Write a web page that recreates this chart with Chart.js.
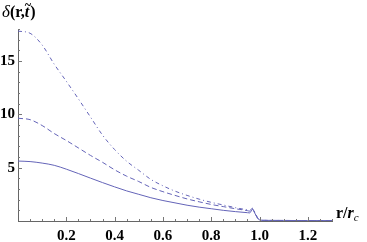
<!DOCTYPE html>
<html>
<head>
<meta charset="utf-8">
<script src="https://cdn.jsdelivr.net/npm/chart.js@4/dist/chart.umd.min.js"></script>
<style>
html,body{margin:0;padding:0;background:#fff;}
#wrap{width:367px;height:242px;position:relative;}
</style>
</head>
<body>
<div id="wrap"><canvas id="c" width="367" height="242"></canvas></div>
<script>
const rValues = [0,0.05,0.1,0.15,0.2,0.25,0.3,0.35,0.4,0.45,0.5,0.55,0.6,0.65,0.7,0.75,0.8,0.85,0.9,0.95,0.96,0.97,0.98,0.99,1.0,1.02,1.1,1.2,1.3];
const solidValues = [5.62,5.57,5.43,5.22,4.86,4.45,4.02,3.6,3.2,2.82,2.5,2.18,1.92,1.7,1.48,1.3,1.15,1.0,0.88,0.78,0.76,1.1,0.75,0.35,0.1,0.06,0.05,0.04,0.04];
const dashedValues = [9.63,9.5,8.95,8.2,7.55,6.85,6.15,5.5,4.8,4.2,3.7,3.15,2.75,2.4,2.07,1.8,1.55,1.35,1.15,0.97,0.92,1.15,0.8,0.35,0.1,0.06,0.05,0.04,0.04];
const dashDotValues = [17.8,17.6,16.5,14.7,13.1,11.45,9.75,8.05,6.7,5.6,4.75,3.9,3.3,2.8,2.4,2.05,1.75,1.5,1.25,1.03,0.98,1.2,0.85,0.35,0.1,0.06,0.05,0.04,0.04];
const xTickValues = [0.2,0.4,0.6,0.8,1.0,1.2];
const yTickValues = [5,10,15];
const xTickLabels = ["0.2","0.4","0.6","0.8","1.0","1.2"];
const yTickLabels = ["5","10","15"];

const lineColor = '#6464b8';
const pts = arr => rValues.map((r,i)=>({x:r,y:arr[i]}));

const serif = '"Liberation Serif","DejaVu Serif",serif';
const tickFont = {family:serif, size:15, weight:'bold'};

const axisPlugin = {
  id:'axisDecor',
  afterDraw(chart){
    const ctx = chart.ctx, xs = chart.scales.x, ys = chart.scales.y, ca = chart.chartArea;
    ctx.save();
    ctx.strokeStyle = '#777';
    ctx.lineWidth = 1;
    for (let v = 0.05; v <= 1.3001; v += 0.05) {
      const px = Math.round(xs.getPixelForValue(v)) + 0.5;
      const major = Math.abs(v/0.2 - Math.round(v/0.2)) < 1e-6;
      ctx.beginPath(); ctx.moveTo(px, ca.bottom); ctx.lineTo(px, ca.bottom - (major?4:2)); ctx.stroke();
    }
    for (let v = 1; v <= 18; v += 1) {
      const py = Math.round(ys.getPixelForValue(v)) + 0.5;
      const major = v % 5 === 0;
      ctx.beginPath(); ctx.moveTo(ca.left, py); ctx.lineTo(ca.left + (major?4:2), py); ctx.stroke();
    }
    ctx.fillStyle = '#000';
    ctx.textBaseline = 'alphabetic';
    ctx.textAlign = 'left';
    let x = 2, y = 17;
    ctx.font = 'italic 17px ' + serif; ctx.fillText('δ', x, y); x += ctx.measureText('δ').width;
    ctx.font = 'bold 16px ' + serif; ctx.fillText('(r,', x, y); x += ctx.measureText('(r,').width;
    ctx.font = 'bold italic 16px ' + serif; ctx.fillText('t', x, y);
    const tw = ctx.measureText('t').width;
    ctx.font = 'bold 12px ' + serif; ctx.fillText('~', x, y - 8); x += tw + 1;
    ctx.font = 'bold 16px ' + serif; ctx.fillText(')', x, y);
    x = 336; y = 218;
    ctx.font = 'bold 16px ' + serif; ctx.fillText('r/', x, y); x += ctx.measureText('r/').width;
    ctx.font = 'bold italic 16px ' + serif; ctx.fillText('r', x, y); x += ctx.measureText('r').width;
    ctx.font = 'italic 11px ' + serif; ctx.fillText('c', x, y + 3);
    ctx.restore();
  }
};

new Chart(document.getElementById('c'), {
  type:'line',
  data:{
    datasets:[
      {data:pts(solidValues), borderColor:lineColor, borderWidth:1, pointRadius:0, cubicInterpolationMode:'monotone', fill:false},
      {data:pts(dashedValues), borderColor:lineColor, borderWidth:1, borderDash:[5,3], pointRadius:0, cubicInterpolationMode:'monotone', fill:false},
      {data:pts(dashDotValues), borderColor:lineColor, borderWidth:1, borderDash:[4,3,1,3], pointRadius:0, cubicInterpolationMode:'monotone', fill:false}
    ]
  },
  options:{
    responsive:false,
    animation:false,
    events:[],
    layout:{padding:{top:29,right:35,left:0,bottom:0}},
    plugins:{legend:{display:false},tooltip:{enabled:false}},
    scales:{
      x:{
        type:'linear', min:0, max:1.3,
        grid:{display:true, drawOnChartArea:false, drawTicks:false},
        border:{display:true, color:'#666', width:1},
        afterBuildTicks(s){ s.ticks = xTickValues.map(v=>({value:v})); },
        afterFit(s){ s.height = 21; },
        ticks:{padding:6, color:'#000', font:tickFont, maxRotation:0, autoSkip:false,
          callback:(v)=>{ const i = xTickValues.findIndex(t=>Math.abs(t-v)<1e-9); return i>=0?xTickLabels[i]:''; }}
      },
      y:{
        type:'linear', min:0, max:18,
        grid:{display:true, drawOnChartArea:false, drawTicks:false},
        border:{display:true, color:'#666', width:1},
        afterBuildTicks(s){ s.ticks = yTickValues.map(v=>({value:v})); },
        afterFit(s){ s.width = 18; },
        ticks:{padding:3, color:'#000', font:tickFont, autoSkip:false,
          callback:(v)=>{ const i = yTickValues.indexOf(v); return i>=0?yTickLabels[i]:''; }}
      }
    }
  },
  plugins:[axisPlugin]
});
</script>
</body>
</html>
